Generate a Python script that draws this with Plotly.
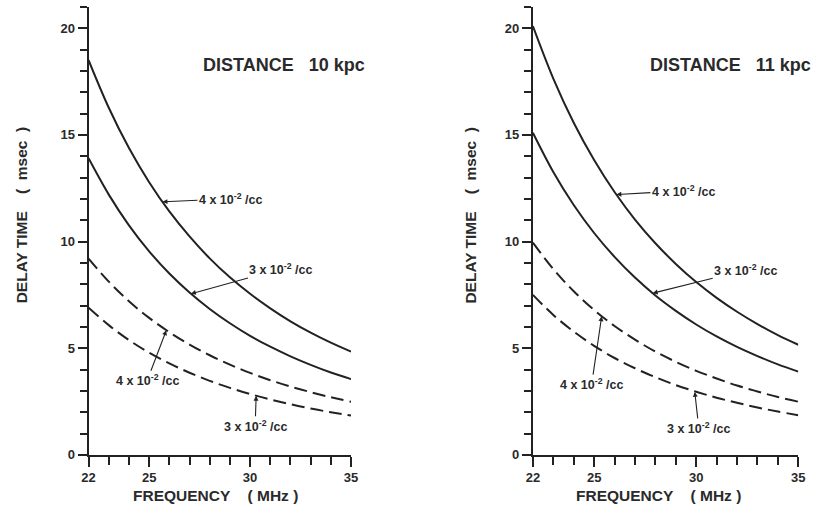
import plotly.graph_objects as go

# ---- data ----
freq = [22, 23, 24, 25, 26, 27, 28, 29, 30, 31, 32, 33, 34, 35]

# Distance 10 kpc
d10_solid_4 = [18.5, 16.27, 14.38, 12.78, 11.41, 10.24, 9.21, 8.32, 7.55, 6.87, 6.26, 5.73, 5.26, 4.84]
d10_solid_3 = [13.9, 12.20, 10.76, 9.54, 8.50, 7.61, 6.84, 6.17, 5.58, 5.07, 4.62, 4.22, 3.86, 3.55]
d10_dash_4 = [9.2, 8.12, 7.20, 6.42, 5.75, 5.17, 4.67, 4.23, 3.84, 3.50, 3.20, 2.94, 2.70, 2.49]
d10_dash_3 = [6.9, 6.08, 5.38, 4.79, 4.29, 3.85, 3.47, 3.14, 2.85, 2.60, 2.37, 2.17, 2.00, 1.84]

# Distance 11 kpc
d11_solid_4 = [20.1, 17.64, 15.57, 13.82, 12.32, 11.03, 9.92, 8.95, 8.10, 7.36, 6.71, 6.13, 5.61, 5.16]
d11_solid_3 = [15.1, 13.26, 11.71, 10.40, 9.28, 8.31, 7.47, 6.75, 6.11, 5.55, 5.06, 4.63, 4.24, 3.90]
d11_dash_4 = [9.95, 8.71, 7.67, 6.79, 6.04, 5.40, 4.84, 4.36, 3.94, 3.58, 3.25, 2.97, 2.71, 2.49]
d11_dash_3 = [7.5, 6.56, 5.78, 5.11, 4.54, 4.06, 3.64, 3.27, 2.96, 2.68, 2.44, 2.22, 2.03, 1.86]

NB = "\u00a0"
panel_titles = ["DISTANCE" + NB * 2 + " 10 kpc", "DISTANCE" + NB * 2 + " 11 kpc"]
x_title = "FREQUENCY" + NB * 3 + " ( MHz )"
y_title = "DELAY TIME" + NB * 3 + " (" + NB + " msec" + NB + " )"
x_tickvals = [22, 25, 30, 35]
y_tickvals = [0, 5, 10, 15, 20]
lbl4 = "4 x 10<sup>-2</sup> /cc"
lbl3 = "3 x 10<sup>-2</sup> /cc"

INK = "#222222"
TXT = "#2a2a2a"
FONT = "Liberation Sans"
W, H = 822, 517

fig = go.Figure()

def add_curve(y, xa, ya, dashed):
    fig.add_trace(go.Scatter(
        x=freq, y=y, mode="lines", xaxis=xa, yaxis=ya, showlegend=False,
        line=dict(color=INK, width=2, shape="spline",
                  dash="13px,6px" if dashed else "solid"),
        hoverinfo="skip"))

add_curve(d10_solid_4, "x", "y", False)
add_curve(d10_solid_3, "x", "y", False)
add_curve(d10_dash_4, "x", "y", True)
add_curve(d10_dash_3, "x", "y", True)
add_curve(d11_solid_4, "x2", "y2", False)
add_curve(d11_solid_3, "x2", "y2", False)
add_curve(d11_dash_4, "x2", "y2", True)
add_curve(d11_dash_3, "x2", "y2", True)

def px(x):
    return x / W

def py(y):
    return 1 - y / H

ydom = [py(462), py(7)]

def axis_style(ticklen):
    return dict(
        showline=True, linecolor=INK, linewidth=2, showgrid=False, zeroline=False,
        ticks="outside", tickcolor=INK, tickwidth=1.5, ticklen=ticklen,
        tickfont=dict(family=FONT, size=13, color=TXT, weight="bold"),
        minor=dict(dtick=1, ticks="outside", ticklen=ticklen - 2, tickcolor=INK,
                   tickwidth=1.5, showgrid=False),
    )

fig.update_layout(
    width=W, height=H,
    margin=dict(l=0, r=0, t=0, b=0),
    paper_bgcolor="white", plot_bgcolor="white",
    xaxis=dict(domain=[px(83), px(350)], range=[22, 35], tickvals=x_tickvals,
               anchor="y", **axis_style(10)),
    yaxis=dict(domain=ydom, range=[0, 21], tickvals=y_tickvals, anchor="x", **axis_style(9)),
    xaxis2=dict(domain=[px(535), px(805)], range=[22, 35], tickvals=x_tickvals,
                anchor="y2", **axis_style(10)),
    yaxis2=dict(domain=ydom, range=[0, 21], tickvals=y_tickvals, anchor="x2", **axis_style(9)),
)

anns = []

def paper_text(text, cx, cy, size, angle=0):
    anns.append(dict(text=text, x=px(cx), y=py(cy), xref="paper", yref="paper",
                     xanchor="center", yanchor="middle", textangle=angle,
                     showarrow=False,
                     font=dict(family=FONT, size=size, color=TXT, weight="bold")))

# panel titles
paper_text(panel_titles[0], 282, 66, 18)
paper_text(panel_titles[1], 736, 66, 18)
# axis titles
paper_text(x_title, 212, 503, 15.5)
paper_text(x_title, 663, 503, 15.5)
paper_text(y_title, 15, 218, 15.5, -90)
paper_text(y_title, 472, 218, 15.5, -90)

lab_font = dict(family=FONT, size=12.5, color=TXT, weight="bold")

def curve_label(text, xa, ya, x, y, ax, ay):
    anns.append(dict(text=text, x=x, y=y, xref=xa, yref=ya, ax=ax, ay=ay,
                     axref="pixel", ayref="pixel", showarrow=True,
                     xanchor="center", yanchor="middle",
                     arrowhead=2, arrowsize=0.9, arrowwidth=1.1, arrowcolor=INK,
                     standoff=0, font=lab_font))

# left panel labels
curve_label(lbl4, "x", "y", 25.66, 11.86, 68, -3)
curve_label(lbl3, "x", "y", 27.07, 7.55, 90, -25)
curve_label(lbl4, "x", "y", 25.85, 5.84, -19, 50)
curve_label(lbl3, "x", "y", 30.3, 2.77, -1, 30)
# right panel labels
curve_label(lbl4, "x2", "y2", 26.09, 12.2, 67, -4)
curve_label(lbl3, "x2", "y2", 27.87, 7.58, 93, -23)
curve_label(lbl4, "x2", "y2", 25.37, 6.5, -10, 68)
curve_label(lbl3, "x2", "y2", 29.93, 2.95, 4, 36)

fig.update_layout(annotations=anns)

fig.write_html("out.html")
